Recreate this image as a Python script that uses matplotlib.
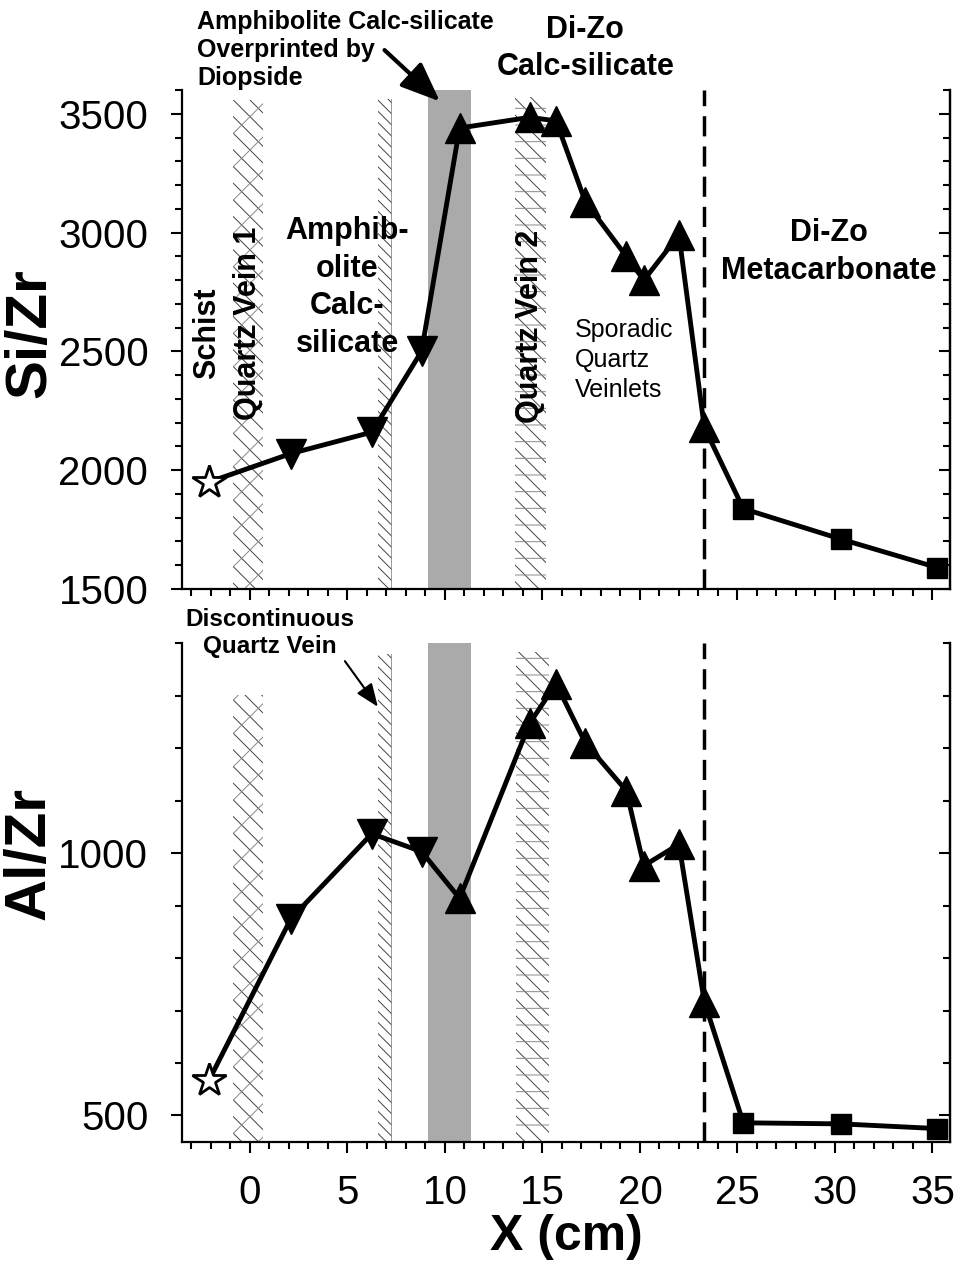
import numpy as np
import matplotlib
matplotlib.use("Agg")
import matplotlib.pyplot as plt
from matplotlib.ticker import MultipleLocator

plt.rcParams['font.family'] = ['Liberation Sans', 'DejaVu Sans']
plt.rcParams['hatch.linewidth'] = 0.7

# --- data ---
x_pts = [-2.1, 2.1, 6.25, 8.8, 10.75, 14.35, 15.7, 17.2, 19.3, 20.2, 22.0, 23.3, 25.3, 30.3, 35.25]
si_zr = [1950, 2070, 2160, 2500, 3440, 3485, 3470, 3130, 2900, 2800, 2990, 2180, 1838, 1710, 1590]
al_zr = [567, 875, 1037, 1003, 914, 1248, 1323, 1210, 1119, 976, 1017, 717, 486, 484, 475]
# marker type per sample: star = schist, v = amphibolite, ^ = Di-Zo calc-silicate, s = metacarbonate
kinds = ['*', 'v', 'v', 'v', '^', '^', '^', '^', '^', '^', '^', '^', 's', 's', 's']

contact_x = 23.3                 # dashed contact line
gray_band = (9.15, 11.35)        # overprinted zone
veins_top = [(-0.85, 0.68, 3556), (6.58, 7.26, 3564), (13.6, 15.2, 3570)]
veins_bot = [(-0.85, 0.68, 1302), (6.58, 7.26, 1380), (13.65, 15.35, 1384)]
vein_hatches = [('\\\\', '/'), ('\\\\\\', '|'), ('\\\\', '-')]

W, H = 962, 1266
fig = plt.figure(figsize=(W / 100, H / 100), dpi=100)

def frac(l, t, r, b):
    return [l / W, 1 - b / H, (r - l) / W, (b - t) / H]

ax1 = fig.add_axes(frac(181.7, 90, 950, 589))
ax2 = fig.add_axes(frac(181.7, 643.3, 950, 1141.7))

def style(ax, ylim, labels_x):
    ax.set_xlim(-3.5, 35.9)
    ax.set_ylim(*ylim)
    ax.spines['top'].set_visible(False)
    for s in ['left', 'right', 'bottom']:
        ax.spines[s].set_linewidth(1.6)
    ax.xaxis.set_major_locator(MultipleLocator(5))
    ax.xaxis.set_minor_locator(MultipleLocator(1))
    ax.yaxis.set_major_locator(MultipleLocator(500))
    ax.yaxis.set_minor_locator(MultipleLocator(100))
    ax.tick_params(axis='both', which='major', length=8, width=1.5, direction='out', labelsize=29)
    ax.tick_params(axis='both', which='minor', length=5, width=1.5, direction='out')
    ax.tick_params(axis='y', which='major', pad=16)
    ax.tick_params(axis='x', which='major', pad=15, labelbottom=labels_x)
    sec = ax.secondary_yaxis('right')
    sec.yaxis.set_major_locator(MultipleLocator(500))
    sec.yaxis.set_minor_locator(MultipleLocator(100))
    sec.tick_params(which='major', direction='in', length=8, width=1.5, labelright=False)
    sec.tick_params(which='minor', direction='in', length=5, width=1.5)
    sec.spines['right'].set_linewidth(1.6)

def bands(ax, veins, ymin):
    ax.axvspan(gray_band[0], gray_band[1], color='#aaaaaa', lw=0, zorder=1)
    for (x0, x1, ytop), (h1, h2) in zip(veins, vein_hatches):
        ax.fill_betweenx([ymin, ytop], x0, x1, facecolor='none', edgecolor='#444444',
                         hatch=h1, lw=0, zorder=1)
        ax.fill_betweenx([ymin, ytop], x0, x1, facecolor='none', edgecolor='#888888',
                         hatch=h2, lw=0, zorder=1)
    ax.axvline(contact_x, color='k', lw=2.5, linestyle=(0, (5.8, 2.9)), zorder=2)

def series(ax, y):
    ax.plot(x_pts, y, color='k', lw=3.5, zorder=3)
    for xi, yi, k in zip(x_pts, y, kinds):
        if k == '*':
            ax.plot(xi, yi, marker='*', ms=25, mfc='white', mec='k', mew=2, zorder=4, clip_on=False)
        elif k == 's':
            ax.plot(xi, yi, marker='s', ms=14, color='k', zorder=4, clip_on=False)
        else:
            ax.plot(xi, yi, marker=k, ms=21, color='k', zorder=4, clip_on=False)

style(ax1, (1500, 3600), False)
style(ax2, (450, 1400), True)
bands(ax1, veins_top, 1500)
bands(ax2, veins_bot, 450)
series(ax1, si_zr)
series(ax2, al_zr)

# --- labels ---
fig.text(30 / W, 1 - 333 / H, 'Si/Zr', rotation=90, ha='center', va='center',
         fontsize=42, fontweight='bold')
fig.text(30 / W, 1 - 853 / H, 'Al/Zr', rotation=90, ha='center', va='center',
         fontsize=42, fontweight='bold')
fig.text(566 / W, 1 - 1237 / H, 'X (cm)', ha='center', va='center',
         fontsize=36, fontweight='bold')

# top panel annotations
b22 = dict(fontsize=22, fontweight='bold', linespacing=1.33)
ax1.text(-2.2, 2578, 'Schist', rotation=90, ha='center', va='center', **b22)
ax1.text(-0.1, 2617, 'Quartz Vein 1', rotation=90, ha='center', va='center', **b22)
ax1.text(5.0, 2768, 'Amphib-\nolite\nCalc-\nsilicate', ha='center', va='center', **b22)
ax1.text(14.35, 2605, 'Quartz Vein 2', rotation=90, ha='center', va='center', **b22)
ax1.text(16.65, 2463, 'Sporadic\nQuartz\nVeinlets', ha='left', va='center',
         fontsize=18, linespacing=1.33)
ax1.text(29.7, 2919, 'Di-Zo\nMetacarbonate', ha='center', va='center', **b22)
ax1.text(17.2, 3775, 'Di-Zo\nCalc-silicate', ha='center', va='center', **b22)
ax1.text(-2.7, 3769, 'Amphibolite Calc-silicate\nOverprinted by\nDiopside',
         ha='left', va='center', fontsize=18, fontweight='bold', linespacing=1.2)
ax1.annotate('', xy=(9.74, 3552), xytext=(6.9, 3768), annotation_clip=False,
             arrowprops=dict(arrowstyle='-|>,head_length=1.1,head_width=0.45',
                             mutation_scale=22, lw=3, color='k',
                             shrinkA=0, shrinkB=0))

# bottom panel annotation
ax2.text(1.02, 1420, 'Discontinuous\nQuartz Vein', ha='center', va='center',
         fontsize=17.5, fontweight='bold', linespacing=1.25)
ax2.annotate('', xy=(6.56, 1279), xytext=(4.87, 1366), annotation_clip=False,
             arrowprops=dict(arrowstyle='-|>,head_length=1.0,head_width=0.4',
                             mutation_scale=14, lw=1.5, color='k',
                             shrinkA=0, shrinkB=0))

fig.savefig('out.png', dpi=100)
